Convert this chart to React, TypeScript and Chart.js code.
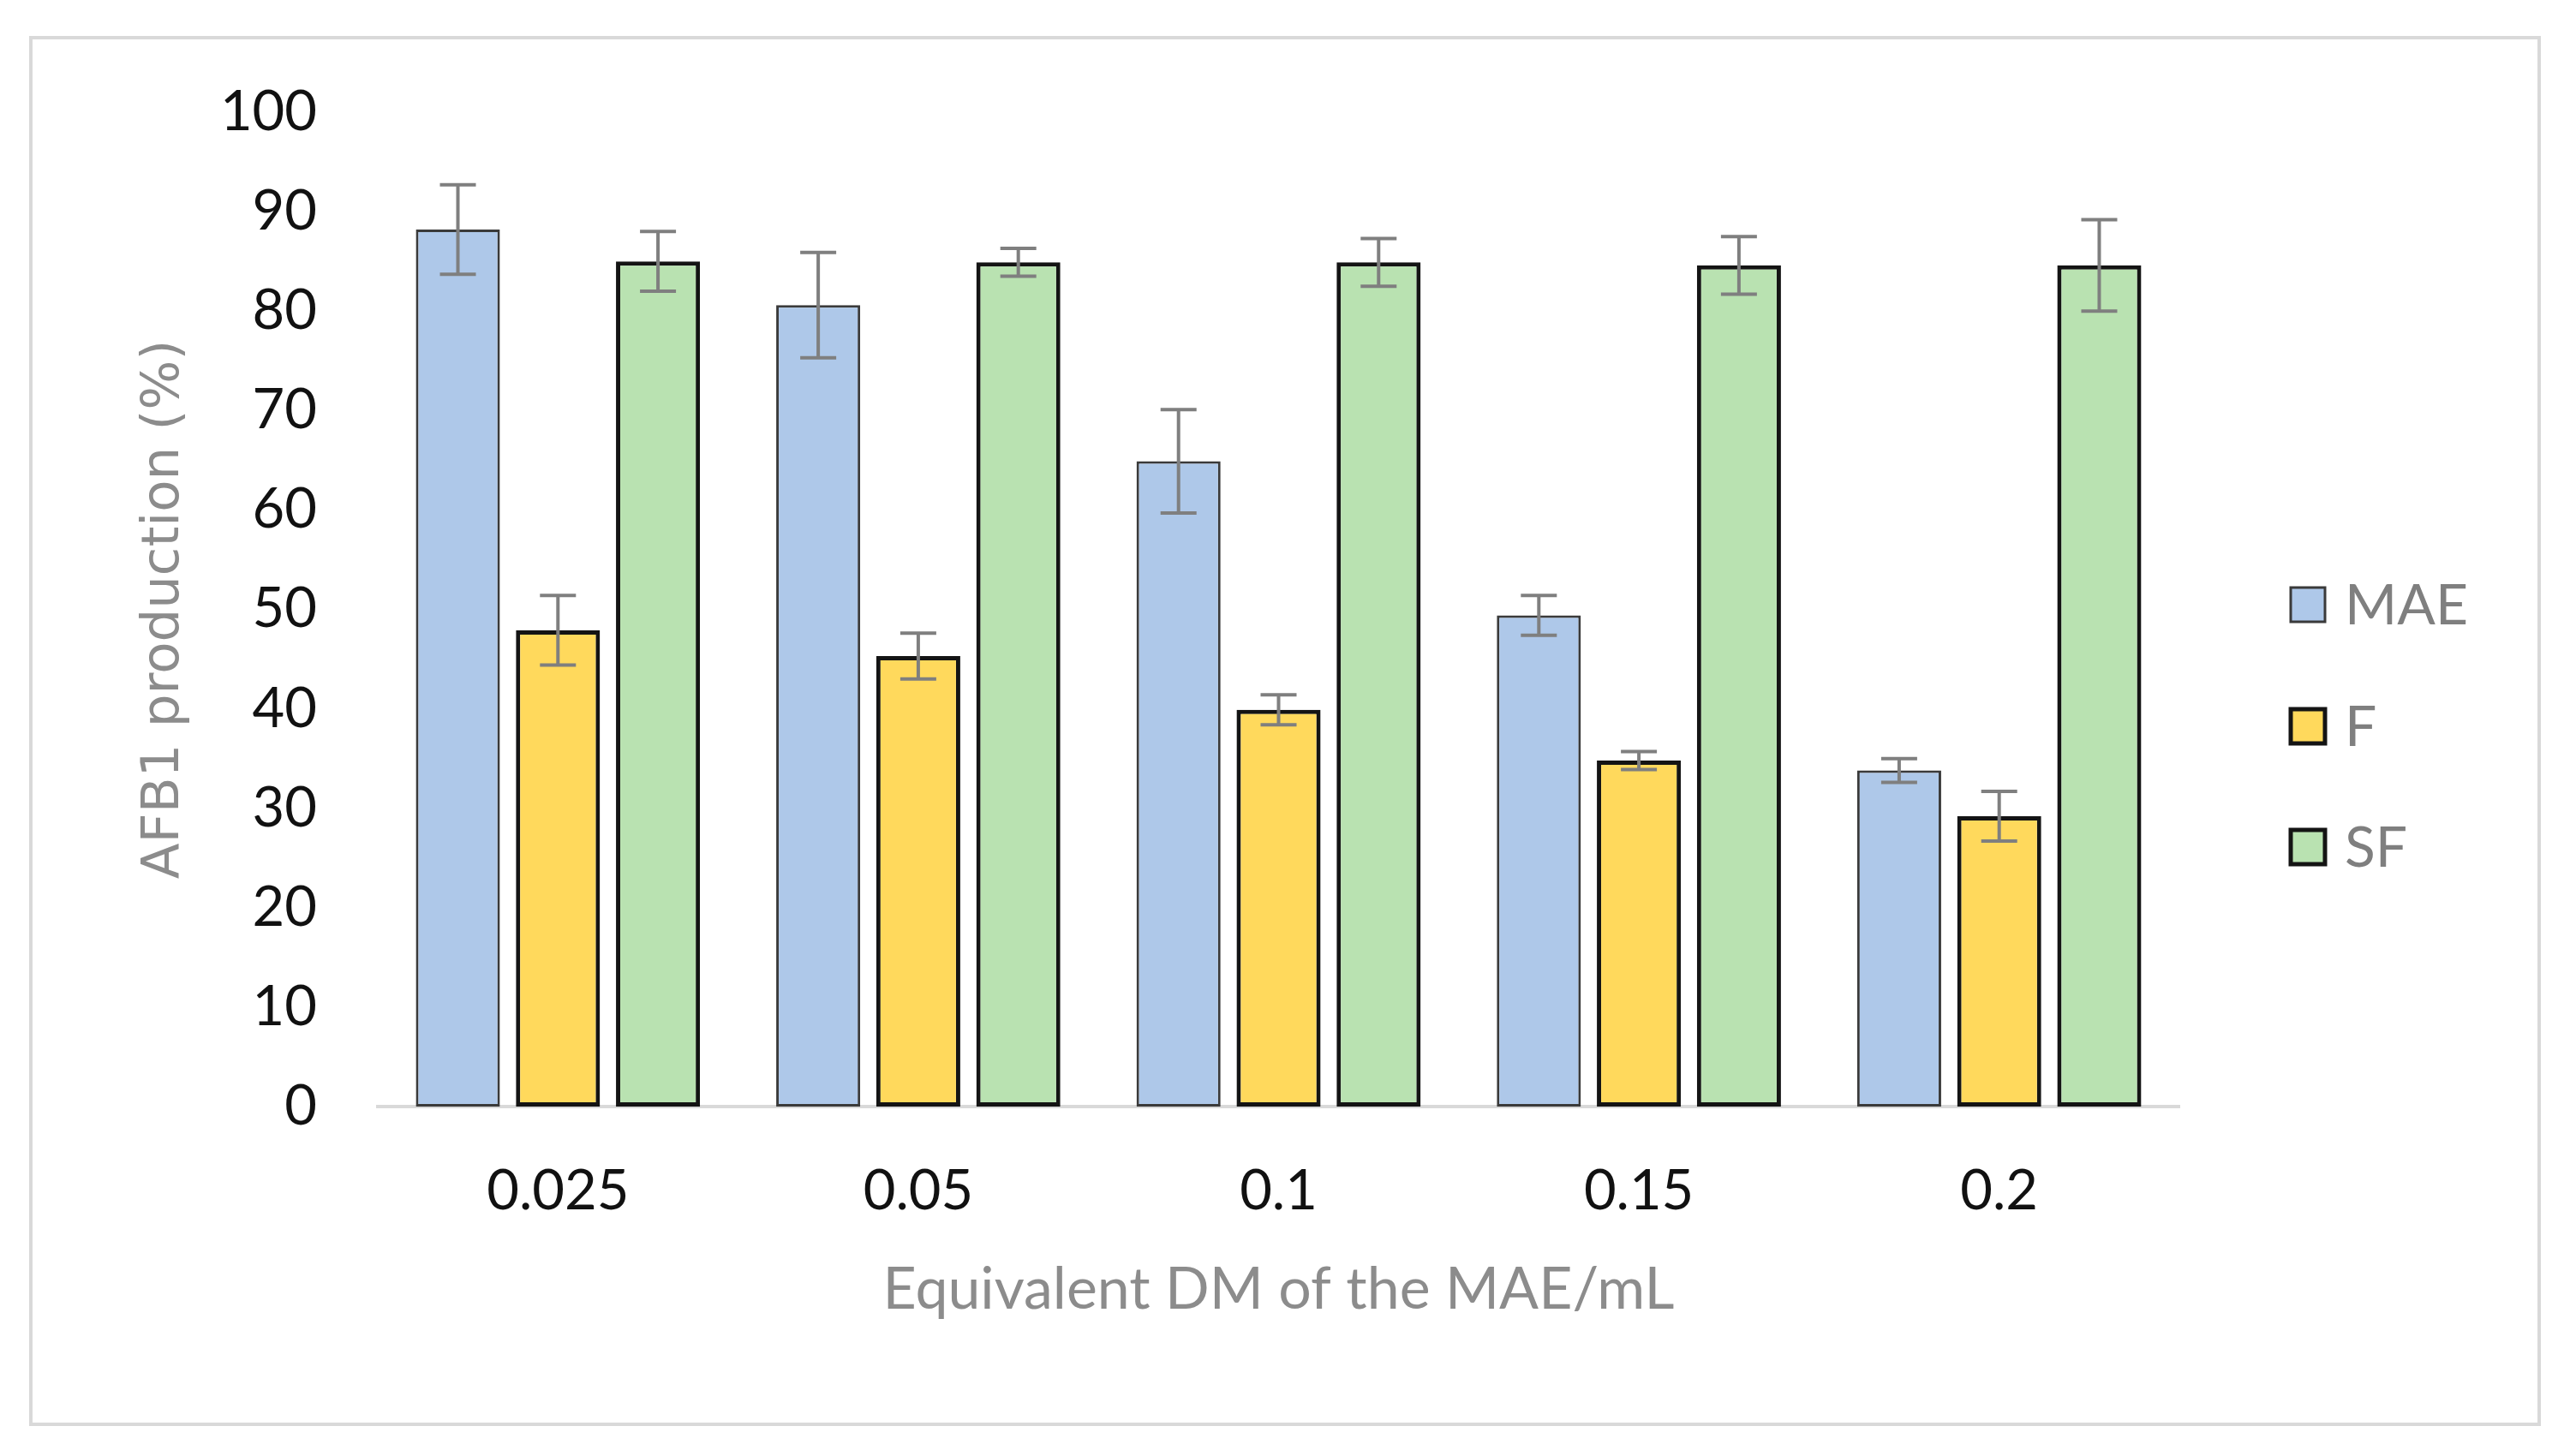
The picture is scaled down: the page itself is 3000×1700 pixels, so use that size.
import React, { useEffect, useRef } from "react";
import { Chart, registerables } from "chart.js";

Chart.register(...registerables);

const categories = ["0.025", "0.05", "0.1", "0.15", "0.2"];
const seriesNames = ["MAE", "F", "SF"];
const maeValues = [88.2, 80.6, 64.9, 49.4, 33.8];
const maeErrors = [4.5, 5.3, 5.2, 2.0, 1.2];
const fValues = [47.9, 45.3, 39.9, 34.8, 29.2];
const fErrors = [3.5, 2.3, 1.5, 0.9, 2.5];
const sfValues = [85.0, 84.9, 84.9, 84.6, 84.6];
const sfErrors = [3.0, 1.4, 2.4, 2.9, 4.6];
const yTicks = [0, 10, 20, 30, 40, 50, 60, 70, 80, 90, 100];

const fills = ["#aec8e9", "#ffd95c", "#b9e2b1"];
const borders = ["#3a3a3a", "#141414", "#141414"];
const borderWidths = [3, 5, 5];
const errorsBySeries = [maeErrors, fErrors, sfErrors];

const errorBarPlugin = {
  id: "errorBars",
  afterDatasetsDraw(chart: any) {
    const ctx = chart.ctx;
    const y = chart.scales.y;
    ctx.save();
    ctx.strokeStyle = "#7f7f7f";
    ctx.lineWidth = 4;
    chart.data.datasets.forEach((ds: any, di: number) => {
      const meta = chart.getDatasetMeta(di);
      const errs = errorsBySeries[di];
      meta.data.forEach((bar: any, i: number) => {
        const v = ds.data[i];
        const e = errs[i];
        const x = bar.x;
        const yTop = y.getPixelForValue(v + e);
        const yBot = y.getPixelForValue(v - e);
        const cap = 21;
        ctx.beginPath();
        ctx.moveTo(x, yTop);
        ctx.lineTo(x, yBot);
        ctx.moveTo(x - cap, yTop);
        ctx.lineTo(x + cap, yTop);
        ctx.moveTo(x - cap, yBot);
        ctx.lineTo(x + cap, yBot);
        ctx.stroke();
      });
    });
    ctx.restore();
  },
};

const legendPlugin = {
  id: "customLegend",
  afterDraw(chart: any) {
    const ctx = chart.ctx;
    const centers = [706, 848, 989];
    const size = 40;
    const left = 2674;
    ctx.save();
    seriesNames.forEach((name, i) => {
      const cy = centers[i];
      const bw = borderWidths[i];
      ctx.fillStyle = fills[i];
      ctx.fillRect(left, cy - size / 2, size, size);
      ctx.strokeStyle = borders[i];
      ctx.lineWidth = bw;
      ctx.strokeRect(left, cy - size / 2, size, size);
      ctx.fillStyle = "#7f7f7f";
      ctx.font = "66px Lato";
      ctx.textBaseline = "middle";
      ctx.textAlign = "left";
      ctx.fillText(name, 2737, cy + 2);
    });
    ctx.restore();
  },
};

export default function App() {
  const canvasRef = useRef<HTMLCanvasElement | null>(null);

  useEffect(() => {
    const canvas = canvasRef.current;
    if (!canvas) return;
    const seriesValues = [maeValues, fValues, sfValues];
    const chart = new Chart(canvas, {
      type: "bar",
      data: {
        labels: categories,
        datasets: seriesNames.map((name, i) => ({
          label: name,
          data: seriesValues[i],
          backgroundColor: fills[i],
          borderColor: borders[i],
          borderWidth: borderWidths[i],
          borderSkipped: false,
          categoryPercentage: 0.833,
          barPercentage: 0.84,
        })),
      },
      options: {
        responsive: false,
        devicePixelRatio: 1,
        animation: false,
        layout: { padding: { top: 131, right: 456, left: 0, bottom: 0 } },
        plugins: {
          legend: { display: false },
          tooltip: { enabled: false },
        },
        scales: {
          x: {
            offset: true,
            grid: { display: false, drawTicks: false },
            border: { display: true, color: "#d9d9d9", width: 4 },
            ticks: {
              color: "#111111",
              font: { family: "Lato", size: 65 },
              padding: 60,
              maxRotation: 0,
            },
            title: {
              display: true,
              text: "Equivalent DM of the MAE/mL",
              color: "#8c8c8c",
              font: { family: "Lato", size: 68 },
              padding: { top: 0, bottom: 153 },
            },
            afterFit: (scale: any) => {
              scale.height = 408;
            },
          },
          y: {
            min: 0,
            max: 100,
            afterBuildTicks: (scale: any) => {
              scale.ticks = yTicks.map((v) => ({ value: v }));
            },
            grid: { display: false, drawTicks: false },
            border: { display: false },
            ticks: {
              color: "#111111",
              font: { family: "Lato", size: 65 },
              padding: 71,
            },
            title: {
              display: true,
              text: "AFB1 production (%)",
              color: "#8c8c8c",
              font: { family: "DejaVu Sans", size: 61 },
              padding: { top: 156, bottom: 0 },
            },
            afterFit: (scale: any) => {
              scale.width = 441;
            },
          },
        },
      },
      plugins: [errorBarPlugin, legendPlugin],
    });
    return () => chart.destroy();
  }, []);

  return (
    <div
      style={{
        position: "fixed",
        left: 0,
        top: 0,
        width: 3000,
        height: 1700,
        background: "#ffffff",
      }}
    >
      <div
        style={{
          position: "absolute",
          left: 34,
          top: 42,
          width: 2932,
          height: 1623,
          border: "4px solid #d9d9d9",
          boxSizing: "border-box",
        }}
      />
      <canvas
        ref={canvasRef}
        width={3000}
        height={1700}
        style={{ position: "absolute", left: 0, top: 0, width: 3000, height: 1700 }}
      />
    </div>
  );
}
